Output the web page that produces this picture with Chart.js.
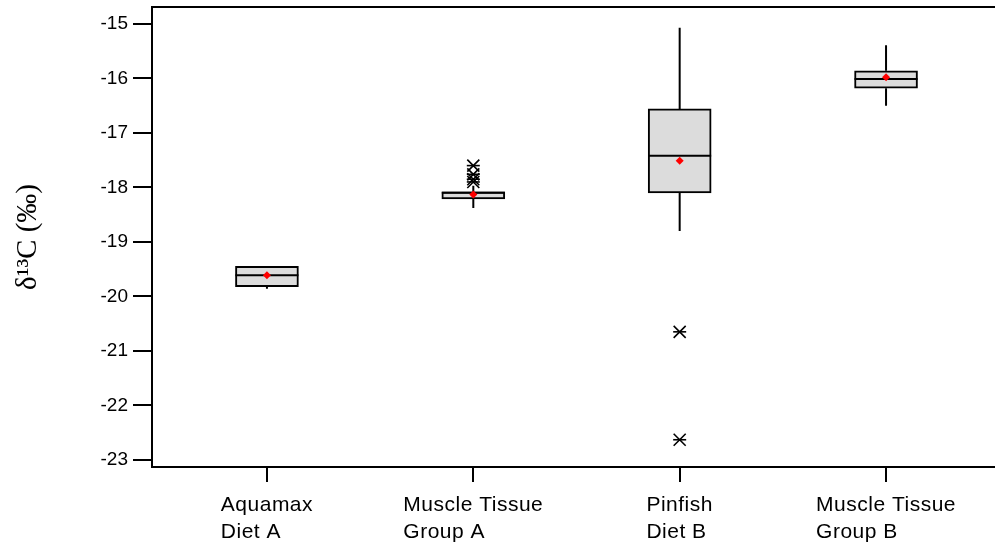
<!DOCTYPE html>
<html>
<head>
<meta charset="utf-8">
<script src="https://cdn.jsdelivr.net/npm/chart.js@4/dist/chart.umd.min.js"></script>
<style>
html, body { margin: 0; padding: 0; background: #fff; }
#wrap { width: 995px; height: 550px; }
</style>
</head>
<body>
<div id="wrap"><canvas id="boxChart"></canvas></div>
<script>
// box plot values (per mil)
const categories = [['Aquamax', 'Diet A'], ['Muscle Tissue', 'Group A'], ['Pinfish', 'Diet B'], ['Muscle Tissue', 'Group B']];
const whiskerLow = [-19.86, -18.38, -18.80, -16.50];
const q1 = [-19.82, -18.21, -18.10, -16.18];
const median = [-19.61, -18.10, -17.42, -16.01];
const q3 = [-19.45, -18.08, -16.56, -15.86];
const whiskerHigh = [-19.45, -17.97, -15.07, -15.39];
const mean = [-19.61, -18.13, -17.51, -15.98];
const outlierGroup = [2, 2, 2, 2, 3, 3];
const outlierValue = [-17.60, -17.76, -17.85, -17.90, -20.65, -22.63];
const yTicks = [-23, -22, -21, -20, -19, -18, -17, -16, -15];

Chart.defaults.color = '#000';
Chart.defaults.font.family = '"Liberation Sans", Arial, sans-serif';

const pos = categories.map((c, i) => i + 1);

const boxData = pos.map((x, i) => ({ x: x, y: [q1[i], q3[i]] }));
const whiskerData = [];
pos.forEach((x, i) => {
    whiskerData.push({ x: x, y: q3[i] }, { x: x, y: whiskerHigh[i] }, { x: x, y: null });
    whiskerData.push({ x: x, y: q1[i] }, { x: x, y: whiskerLow[i] }, { x: x, y: null });
});
const medianData = pos.map((x, i) => ({ x: x, y: median[i] }));
const meanData = pos.map((x, i) => ({ x: x, y: mean[i] }));
const outlierData = outlierGroup.map((g, i) => ({ x: g, y: outlierValue[i] }));

// top frame line + two-line category labels (left aligned like the original)
const frameAndLabels = {
    id: 'frameAndLabels',
    afterDraw(chart) {
        const ctx = chart.ctx;
        const area = chart.chartArea;
        ctx.save();
        ctx.strokeStyle = '#000';
        ctx.lineWidth = 2;
        ctx.beginPath();
        ctx.moveTo(area.left, area.top);
        ctx.lineTo(area.right, area.top);
        ctx.stroke();

        const xs = chart.scales.x;
        ctx.fillStyle = '#000';
        ctx.font = '21px "Liberation Sans", Arial, sans-serif';
        ctx.letterSpacing = '0.5px';
        ctx.textAlign = 'left';
        ctx.textBaseline = 'alphabetic';
        categories.forEach((lines, i) => {
            const px = xs.getPixelForValue(pos[i]);
            const w = ctx.measureText(lines[0]).width;
            const x0 = px - w / 2;
            ctx.fillText(lines[0], x0, area.bottom + 44);
            ctx.fillText(lines[1], x0, area.bottom + 71);
        });
        ctx.restore();
    }
};

new Chart(document.getElementById('boxChart'), {
    type: 'bar',
    data: {
        datasets: [
            {
                type: 'scatter', data: meanData,
                pointStyle: 'rectRot', pointRadius: 4, pointHoverRadius: 4,
                backgroundColor: '#ff0000', borderColor: '#ff0000', borderWidth: 0
            },
            {
                type: 'scatter', data: medianData,
                pointStyle: 'line', pointRadius: 31.5, pointHoverRadius: 31.5,
                borderColor: '#000', borderWidth: 2
            },
            {
                type: 'scatter', data: outlierData,
                pointStyle: 'crossRot', pointRadius: 8.5, pointHoverRadius: 8.5,
                borderColor: '#000', borderWidth: 1.6
            },
            {
                type: 'scatter', data: outlierData,
                pointStyle: 'line', pointRadius: 6.5, pointHoverRadius: 6.5,
                borderColor: '#000', borderWidth: 1.6
            },
            {
                type: 'line', data: whiskerData,
                borderColor: '#000', borderWidth: 2, pointRadius: 0, spanGaps: false
            },
            {
                type: 'bar', data: boxData,
                backgroundColor: '#dcdcdc', borderColor: '#000', borderWidth: 2,
                borderSkipped: false, barThickness: 63
            }
        ]
    },
    options: {
        responsive: true,
        maintainAspectRatio: false,
        animation: false,
        layout: { autoPadding: false, padding: { top: 7, right: 0, bottom: 0, left: 0 } },
        plugins: { legend: { display: false }, tooltip: { enabled: false } },
        scales: {
            x: {
                type: 'linear', min: 0.443, max: 4.528, offset: false,
                afterBuildTicks: s => { s.ticks = pos.map(v => ({ value: v })); },
                afterFit: s => { s.height = 83; s.paddingLeft = 0; s.paddingRight = 0; },
                ticks: { display: false },
                grid: { drawOnChartArea: false, offset: false, tickLength: 15, color: '#000', lineWidth: 2 },
                border: { color: '#000', width: 2 }
            },
            y: {
                type: 'linear', min: -23.13, max: -14.69,
                afterBuildTicks: s => { s.ticks = yTicks.map(v => ({ value: v })); },
                afterFit: s => { s.width = 152; s.paddingTop = 0; s.paddingBottom = 0; },
                ticks: { font: { size: 19 }, padding: 5, callback: v => String(v) },
                grid: { drawOnChartArea: false, tickLength: 19, color: '#000', lineWidth: 2 },
                border: { color: '#000', width: 2 },
                title: {
                    display: true, text: 'δ¹³C (‰)',
                    font: { family: '"Liberation Serif", "Times New Roman", serif', size: 29 },
                    padding: { top: 11, bottom: 0 }
                }
            }
        }
    },
    plugins: [frameAndLabels]
});
</script>
</body>
</html>
